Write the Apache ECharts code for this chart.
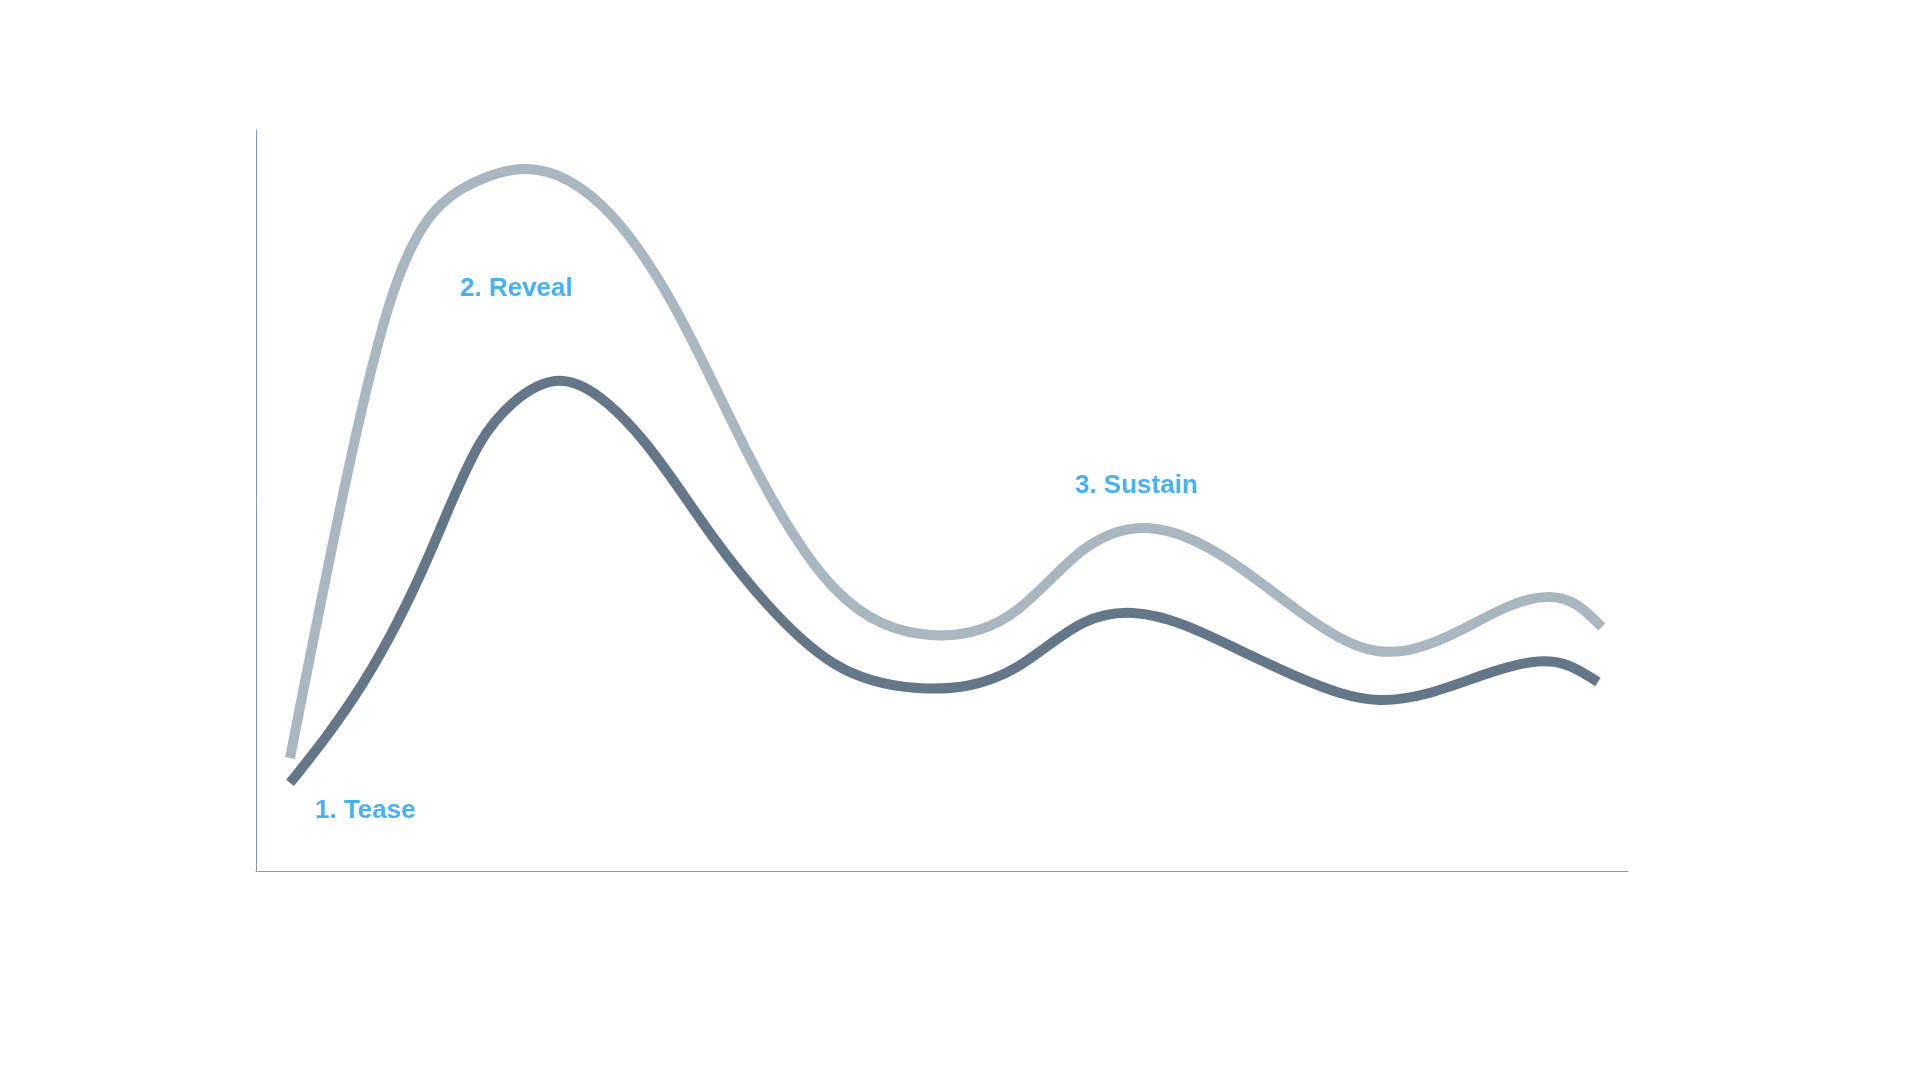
<!DOCTYPE html>
<html>
<head>
<meta charset="utf-8">
<style>
  html, body { margin: 0; padding: 0; background: #ffffff; }
  #chart { width: 1921px; height: 1081px; }
</style>
<script src="https://cdn.jsdelivr.net/npm/echarts@6/dist/echarts.min.js"></script>
</head>
<body>
<div id="chart"></div>
<script>
// Relative attention over time (arbitrary units, 0-100)
var lightX = [2.48, 6.49, 9.99, 15.82, 19.46, 26.02, 30.90, 35.79, 42.06, 49.13, 55.47, 60.28, 65.01, 71.21, 76.09, 81.71, 88.27, 91.18, 94.31, 96.28, 98.10];
var lightY = [15.25, 52.09, 78.00, 92.85, 94.74, 88.26, 74.76, 56.55, 38.33, 31.85, 35.22, 43.32, 46.29, 41.57, 34.95, 29.69, 32.93, 35.63, 36.98, 35.90, 32.93];

var darkX = [2.48, 7.80, 12.68, 16.33, 18.73, 22.38, 25.58, 28.50, 33.31, 37.24, 42.06, 48.18, 55.47, 60.28, 63.92, 71.21, 76.09, 81.92, 89.43, 93.08, 95.55, 97.81];
var darkY = [11.88, 25.37, 42.91, 57.76, 63.16, 66.13, 63.16, 57.49, 45.07, 36.03, 28.07, 24.70, 27.53, 33.47, 34.82, 30.23, 26.05, 23.08, 26.45, 28.21, 27.81, 25.51];

var labelTexts = ['1. Tease', '2. Reveal', '3. Sustain'];
var labelX = [4.3, 14.87, 59.69];
var labelY = [8.15, 78.6, 52.0];

function pairs(xs, ys) {
  var out = [];
  for (var i = 0; i < xs.length; i++) out.push([xs[i], ys[i]]);
  return out;
}
var labelData = [];
for (var i = 0; i < labelTexts.length; i++) {
  labelData.push({ value: [labelX[i], labelY[i]], name: labelTexts[i] });
}

// Natural cubic spline y(x) through pixel points, emitted as Bezier segments
function splinePath(pts) {
  var n = pts.length, i;
  var h = [], M = new Array(n).fill(0);
  for (i = 0; i < n - 1; i++) h.push(pts[i + 1][0] - pts[i][0]);
  var a = [], b = [], c = [], r = [];
  for (i = 1; i < n - 1; i++) {
    a.push(h[i - 1]);
    b.push(2 * (h[i - 1] + h[i]));
    c.push(h[i]);
    r.push(6 * ((pts[i + 1][1] - pts[i][1]) / h[i] - (pts[i][1] - pts[i - 1][1]) / h[i - 1]));
  }
  var m = b.length;
  for (i = 1; i < m; i++) {
    var w = a[i] / b[i - 1];
    b[i] -= w * c[i - 1];
    r[i] -= w * r[i - 1];
  }
  var sol = new Array(m);
  if (m > 0) {
    sol[m - 1] = r[m - 1] / b[m - 1];
    for (i = m - 2; i >= 0; i--) sol[i] = (r[i] - c[i] * sol[i + 1]) / b[i];
  }
  for (i = 0; i < m; i++) M[i + 1] = sol[i];
  var d = [];
  for (i = 0; i < n - 1; i++) {
    d.push((pts[i + 1][1] - pts[i][1]) / h[i] - h[i] * (2 * M[i] + M[i + 1]) / 6);
  }
  d.push((pts[n - 1][1] - pts[n - 2][1]) / h[n - 2] + h[n - 2] * (M[n - 2] + 2 * M[n - 1]) / 6);
  var path = 'M' + pts[0][0] + ',' + pts[0][1];
  for (i = 0; i < n - 1; i++) {
    var dx = h[i] / 3;
    path += ' C' + (pts[i][0] + dx) + ',' + (pts[i][1] + dx * d[i]) + ' ' +
            (pts[i + 1][0] - dx) + ',' + (pts[i + 1][1] - dx * d[i + 1]) + ' ' +
            pts[i + 1][0] + ',' + pts[i + 1][1];
  }
  return path;
}

function curveSeries(name, xs, ys, color) {
  return {
    type: 'custom', name: name, silent: true,
    data: pairs(xs, ys),
    renderItem: function (params, api) {
      if (params.dataIndex !== 0) return null;
      var pts = [];
      for (var k = 0; k < xs.length; k++) pts.push(api.coord([xs[k], ys[k]]));
      return {
        type: 'path',
        shape: { pathData: splinePath(pts) },
        style: { fill: 'none', stroke: color, lineWidth: 10, lineCap: 'butt', lineJoin: 'round' }
      };
    }
  };
}

var chart = echarts.init(document.getElementById('chart'), null, { renderer: 'canvas' });
chart.setOption({
  backgroundColor: '#ffffff',
  animation: false,
  grid: { left: 256, right: 293, top: 130, bottom: 210, containLabel: false },
  xAxis: {
    type: 'value', min: 0, max: 100,
    axisLine: { show: true, onZero: false, lineStyle: { color: '#949ca3', width: 1 } },
    axisTick: { show: false }, axisLabel: { show: false }, splitLine: { show: false }
  },
  yAxis: {
    type: 'value', min: 0, max: 100,
    axisLine: { show: true, onZero: false, lineStyle: { color: '#8e9ca8', width: 1 } },
    axisTick: { show: false }, axisLabel: { show: false }, splitLine: { show: false }
  },
  series: [
    curveSeries('light', lightX, lightY, '#a9b7c1'),
    curveSeries('dark', darkX, darkY, '#647789'),
    {
      type: 'scatter', data: labelData, symbolSize: 0, silent: true,
      label: {
        show: true, position: 'right', distance: 0,
        formatter: function (p) { return p.name; },
        fontFamily: 'Liberation Sans, Arial, sans-serif', fontWeight: 'bold',
        fontSize: 26, color: '#1a9ef0'
      }
    }
  ]
});
</script>
</body>
</html>
